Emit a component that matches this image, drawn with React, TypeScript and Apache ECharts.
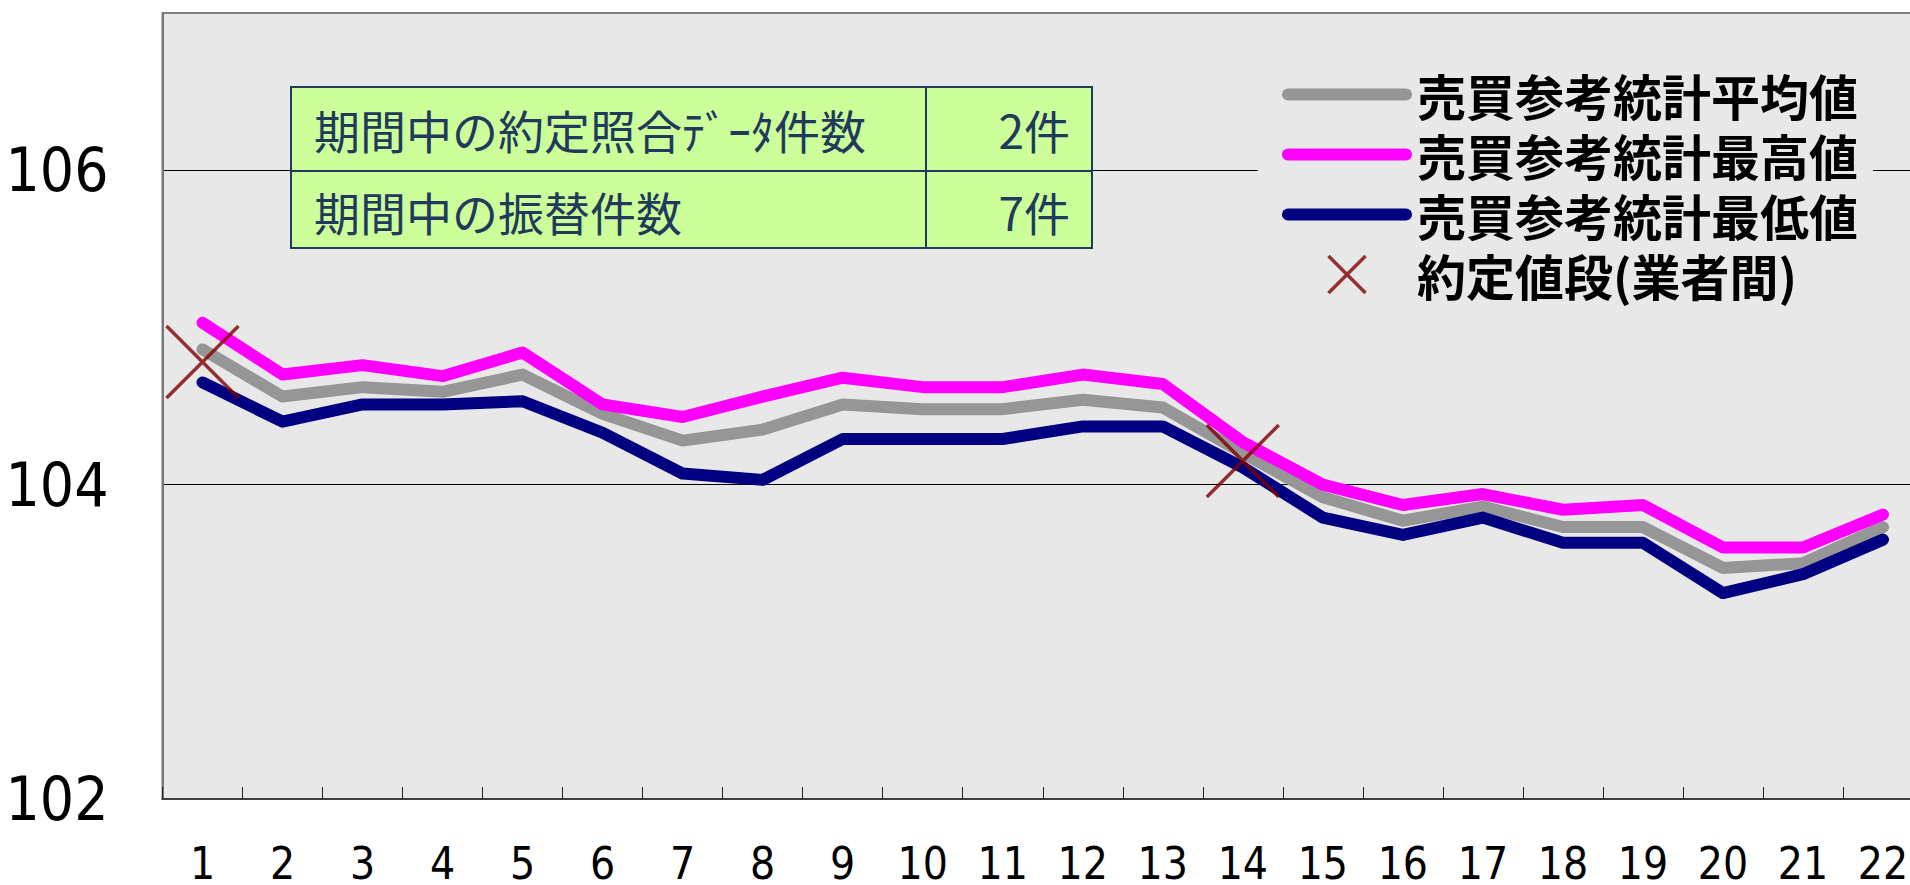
import React, { useEffect, useRef } from "react";
import * as echarts from "echarts";

const categories = [
  "1", "2", "3", "4", "5", "6", "7", "8", "9", "10", "11",
  "12", "13", "14", "15", "16", "17", "18", "19", "20", "21", "22",
];

const avgValues = [
  104.86, 104.56, 104.62, 104.59, 104.7, 104.45, 104.28, 104.35, 104.51, 104.48, 104.48,
  104.54, 104.49, 104.2, 103.92, 103.77, 103.86, 103.73, 103.73, 103.47, 103.5, 103.73,
];
const maxValues = [
  105.03, 104.7, 104.76, 104.69, 104.84, 104.51, 104.43, 104.56, 104.68, 104.62, 104.62,
  104.7, 104.64, 104.27, 104.0, 103.87, 103.94, 103.84, 103.87, 103.6, 103.6, 103.81,
];
const minValues = [
  104.65, 104.4, 104.51, 104.51, 104.53, 104.33, 104.07, 104.03, 104.29, 104.29, 104.29,
  104.37, 104.37, 104.11, 103.79, 103.68, 103.79, 103.63, 103.63, 103.31, 103.43, 103.65,
];
const tradeValues: (number | null)[] = [
  104.78, null, null, null, null, null, null, null, null, null, null,
  null, null, 104.15, null, null, null, null, null, null, null, null,
];

const yMin = 102;
const yMax = 107;
const yInterval = 2;

const seriesNames = [
  "売買参考統計平均値",
  "売買参考統計最高値",
  "売買参考統計最低値",
  "約定値段(業者間)",
];
const seriesColors = ["#969696", "#ff00ff", "#000080", "#800000"];

const tableLabels = ["期間中の約定照合ﾃﾞｰﾀ件数", "期間中の振替件数"];
const tableValues = ["2件", "7件"];

const BG = "#e8e8e8";
const TABLE_INK = "#1f3a5c";
const NARROW = "'Liberation Sans Narrow', 'Arial Narrow', 'DejaVu Sans Condensed', sans-serif";
const JP = "'Noto Sans CJK JP', 'Noto Sans', sans-serif";

const LINE_ICON = "path://M6,0H124A6,6,0,0,1,124,12H6A6,6,0,0,1,6,0Z";
const X_ICON = "path://M0,0L10,10M10,0L0,10";

export default function App() {
  const ref = useRef<HTMLDivElement>(null);

  useEffect(() => {
    if (!ref.current) return;
    const chart = echarts.init(ref.current, undefined, { renderer: "svg" });

    const tableX = 291;
    const tableY = 87;
    const tableW = 801;
    const rowDiv = 171;
    const tableBottom = 248;
    const colDiv = 926;
    const rowCenters = [129, 211];

    const graphic: any[] = [
      {
        type: "rect",
        z: 10,
        shape: { x: tableX, y: tableY, width: tableW, height: tableBottom - tableY },
        style: { fill: "#ccff99", stroke: TABLE_INK, lineWidth: 2 },
      },
      {
        type: "line",
        z: 11,
        shape: { x1: tableX, y1: rowDiv, x2: tableX + tableW, y2: rowDiv },
        style: { stroke: TABLE_INK, lineWidth: 2 },
      },
      {
        type: "line",
        z: 11,
        shape: { x1: colDiv, y1: tableY, x2: colDiv, y2: tableBottom },
        style: { stroke: TABLE_INK, lineWidth: 2 },
      },
    ];
    tableLabels.forEach((t, i) => {
      graphic.push({
        type: "text",
        z: 12,
        x: 314,
        y: rowCenters[i],
        style: {
          text: t,
          fill: TABLE_INK,
          font: `46px ${JP}`,
          verticalAlign: "middle",
          align: "left",
        },
      });
      graphic.push({
        type: "text",
        z: 12,
        x: 1070,
        y: rowCenters[i],
        style: {
          text: tableValues[i],
          fill: TABLE_INK,
          font: `46px ${JP}`,
          verticalAlign: "middle",
          align: "right",
        },
      });
    });

    const option: any = {
      animation: false,
      grid: {
        left: 162.5,
        right: 0,
        top: 13,
        bottom: 85,
        show: true,
        backgroundColor: BG,
        borderColor: "#808080",
        borderWidth: 2,
      },
      legend: {
        orient: "vertical",
        left: 1258,
        top: 58,
        padding: [10, 15, 10, 24],
        itemWidth: 130,
        itemHeight: 37,
        itemGap: 7,
        backgroundColor: BG,
        textStyle: {
          fontSize: 49,
          fontWeight: "bold",
          fontFamily: JP,
          color: "#000",
          lineHeight: 53,
        },
        data: [
          { name: seriesNames[0], icon: LINE_ICON, itemStyle: { color: seriesColors[0], borderWidth: 0 } },
          { name: seriesNames[1], icon: LINE_ICON, itemStyle: { color: seriesColors[1], borderWidth: 0 } },
          { name: seriesNames[2], icon: LINE_ICON, itemStyle: { color: seriesColors[2], borderWidth: 0 } },
          {
            name: seriesNames[3],
            icon: X_ICON,
            itemStyle: { color: "rgba(0,0,0,0)", borderColor: seriesColors[3], borderWidth: 3.5 },
          },
        ],
      },
      xAxis: {
        type: "category",
        data: categories,
        boundaryGap: true,
        axisLine: { show: true, lineStyle: { color: "#404040", width: 2 } },
        axisTick: { show: true, inside: true, length: 12, lineStyle: { color: "#222", width: 1 } },
        axisLabel: {
          margin: 48,
          fontSize: 44,
          lineHeight: 32,
          fontFamily: NARROW,
          color: "#000",
          interval: 0,
        },
        splitLine: { show: false },
      },
      yAxis: {
        type: "value",
        min: yMin,
        max: yMax,
        interval: yInterval,
        axisLine: { show: true, lineStyle: { color: "#777", width: 2 } },
        axisTick: { show: false },
        axisLabel: {
          margin: 54,
          fontSize: 60,
          fontFamily: NARROW,
          color: "#000",
          showMaxLabel: false,
        },
        splitLine: {
          show: true,
          showMinLine: false,
          showMaxLine: false,
          lineStyle: { color: "#000", width: 1 },
        },
      },
      series: [
        {
          name: seriesNames[0],
          type: "line",
          data: avgValues,
          symbol: "none",
          color: seriesColors[0],
          lineStyle: { color: seriesColors[0], width: 12, join: "round", cap: "round" },
          z: 3,
        },
        {
          name: seriesNames[1],
          type: "line",
          data: maxValues,
          symbol: "none",
          color: seriesColors[1],
          lineStyle: { color: seriesColors[1], width: 12, join: "round", cap: "round" },
          z: 3,
        },
        {
          name: seriesNames[2],
          type: "line",
          data: minValues,
          symbol: "none",
          color: seriesColors[2],
          lineStyle: { color: seriesColors[2], width: 12, join: "round", cap: "round" },
          z: 3,
        },
        {
          name: seriesNames[3],
          type: "scatter",
          data: tradeValues,
          symbol: X_ICON,
          symbolSize: 72,
          color: seriesColors[3],
          itemStyle: { color: "rgba(0,0,0,0)", borderColor: seriesColors[3], borderWidth: 3.5 },
          z: 5,
        },
      ],
      graphic,
    };

    chart.setOption(option);
    return () => chart.dispose();
  }, []);

  return (
    <div
      style={{
        position: "fixed",
        left: 0,
        top: 0,
        width: 1910,
        height: 885,
        overflow: "hidden",
        background: "#fff",
      }}
    >
      <div ref={ref} style={{ width: 1923, height: 885 }} />
    </div>
  );
}
